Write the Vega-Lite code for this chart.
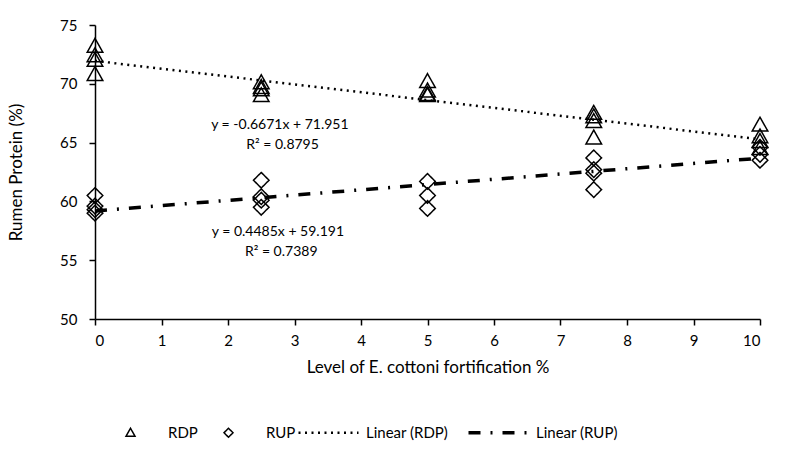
{
  "$schema": "https://vega.github.io/schema/vega-lite/v6.json",
  "width": 665,
  "height": 294,
  "autosize": {"type": "none"},
  "padding": {"left": 95, "top": 25, "right": 35, "bottom": 144},
  "background": "white",
  "config": {
    "font": "Lato",
    "view": {"stroke": null},
    "axis": {
      "grid": false,
      "domainColor": "black",
      "domainWidth": 1.5,
      "tickColor": "black",
      "tickWidth": 1.5,
      "tickSize": 6,
      "labelColor": "black",
      "labelFont": "Lato",
      "labelFontSize": 15,
      "titleFont": "Lato",
      "titleFontSize": 17,
      "titleFontWeight": "normal",
      "titleColor": "black"
    },
    "legend": {
      "labelFont": "Lato",
      "labelFontSize": 15,
      "labelColor": "black",
      "padding": 0
    }
  },
  "datasets": {
    "points": [
      {"series": "RDP", "level": 0, "protein": 73.2},
      {"series": "RDP", "level": 0, "protein": 72.4},
      {"series": "RDP", "level": 0, "protein": 72.0},
      {"series": "RDP", "level": 0, "protein": 70.8},
      {"series": "RDP", "level": 2.5, "protein": 70.1},
      {"series": "RDP", "level": 2.5, "protein": 69.7},
      {"series": "RDP", "level": 2.5, "protein": 69.5},
      {"series": "RDP", "level": 2.5, "protein": 69.0},
      {"series": "RDP", "level": 5, "protein": 70.2},
      {"series": "RDP", "level": 5, "protein": 69.4},
      {"series": "RDP", "level": 5, "protein": 69.1},
      {"series": "RDP", "level": 5, "protein": 69.0},
      {"series": "RDP", "level": 7.5, "protein": 67.5},
      {"series": "RDP", "level": 7.5, "protein": 67.2},
      {"series": "RDP", "level": 7.5, "protein": 66.8},
      {"series": "RDP", "level": 7.5, "protein": 65.4},
      {"series": "RDP", "level": 10, "protein": 66.5},
      {"series": "RDP", "level": 10, "protein": 65.5},
      {"series": "RDP", "level": 10, "protein": 65.1},
      {"series": "RDP", "level": 10, "protein": 64.5},
      {"series": "RUP", "level": 0, "protein": 60.5},
      {"series": "RUP", "level": 0, "protein": 59.6},
      {"series": "RUP", "level": 0, "protein": 59.3},
      {"series": "RUP", "level": 0, "protein": 59.0},
      {"series": "RUP", "level": 2.5, "protein": 61.8},
      {"series": "RUP", "level": 2.5, "protein": 60.4},
      {"series": "RUP", "level": 2.5, "protein": 60.1},
      {"series": "RUP", "level": 2.5, "protein": 59.5},
      {"series": "RUP", "level": 5, "protein": 61.7},
      {"series": "RUP", "level": 5, "protein": 60.5},
      {"series": "RUP", "level": 5, "protein": 59.4},
      {"series": "RUP", "level": 7.5, "protein": 63.7},
      {"series": "RUP", "level": 7.5, "protein": 62.7},
      {"series": "RUP", "level": 7.5, "protein": 62.4},
      {"series": "RUP", "level": 7.5, "protein": 61.0},
      {"series": "RUP", "level": 10, "protein": 64.6},
      {"series": "RUP", "level": 10, "protein": 64.0},
      {"series": "RUP", "level": 10, "protein": 63.5}
    ],
    "trends": [
      {"series": "Linear (RDP)", "level": 0, "protein": 71.951},
      {"series": "Linear (RDP)", "level": 10, "protein": 65.28},
      {"series": "Linear (RUP)", "level": 0, "protein": 59.191},
      {"series": "Linear (RUP)", "level": 10, "protein": 63.676}
    ],
    "notes": [
      {"level": 2.78, "protein": 66.5, "label": "y = -0.6671x + 71.951"},
      {"level": 2.82, "protein": 64.8, "label": "R² = 0.8795"},
      {"level": 2.75, "protein": 57.4, "label": "y = 0.4485x + 59.191"},
      {"level": 2.8, "protein": 55.7, "label": "R² = 0.7389"}
    ]
  },
  "encoding": {
    "x": {
      "field": "level",
      "type": "quantitative",
      "scale": {"domain": [0, 10], "nice": false},
      "axis": {"values": [0,1,2,3,4,5,6,7,8,9,10], "title": "Level of E. cottoni fortification %", "labelPadding": 8, "titlePadding": 11}
    },
    "y": {
      "field": "protein",
      "type": "quantitative",
      "scale": {"domain": [50, 75], "nice": false, "zero": false},
      "axis": {"values": [50,55,60,65,70,75], "title": "Rumen Protein (%)", "labelPadding": 12, "titlePadding": 34}
    },
    "strokeDash": {
      "field": "series",
      "type": "nominal",
      "scale": {
        "domain": ["RDP", "RUP", "Linear (RDP)", "Linear (RUP)"],
        "range": [[1, 0], [1, 0], [2, 4.5], [12, 10, 2, 10]]
      }
    },
    "strokeWidth": {
      "field": "series",
      "type": "nominal",
      "scale": {
        "type": "ordinal",
        "domain": ["RDP", "RUP", "Linear (RDP)", "Linear (RUP)"],
        "range": [1.5, 1.5, 2.5, 3.5]
      }
    }
  },
  "layer": [
    {
      "data": {"name": "trends"},
      "mark": {"type": "line", "color": "black"},
      "encoding": {
        "detail": {"field": "series"}
      }
    },
    {
      "data": {"name": "points"},
      "mark": {"type": "point", "filled": false, "color": "black", "size": 300, "opacity": 1},
      "encoding": {
        "shape": {
          "field": "series",
          "type": "nominal",
          "scale": {
            "domain": ["RDP", "RUP", "Linear (RDP)", "Linear (RUP)"],
            "range": [
              "M-6,0M6,0M0,-0.9L0.9,0.7L-0.9,0.7Z",
              "M-6,0M6,0M0,-0.9L0.9,0L0,0.9L-0.9,0Z",
              "M-6,0H6",
              "M-6,0H6"
            ]
          },
          "legend": {
            "title": null,
            "orient": "none",
            "direction": "horizontal",
            "legendX": 28,
            "legendY": 400,
            "symbolSize": 100,
            "labelOffset": 30,
            "columnPadding": -3,
            "symbolStrokeColor": "black",
            "symbolFillColor": "transparent",
            "labelExpr": "datum.label === 'Linear (RDP)' ? 'Linear (RDP)\u00a0\u00a0\u00a0\u00a0\u200b' : datum.label"
          }
        }
      }
    },
    {
      "data": {"name": "notes"},
      "mark": {"type": "text", "font": "Lato", "fontSize": 14, "color": "black", "align": "center", "baseline": "middle"},
      "encoding": {
        "text": {"field": "label"},
        "strokeDash": {"value": null},
        "strokeWidth": {"value": 0}
      }
    }
  ]
}
